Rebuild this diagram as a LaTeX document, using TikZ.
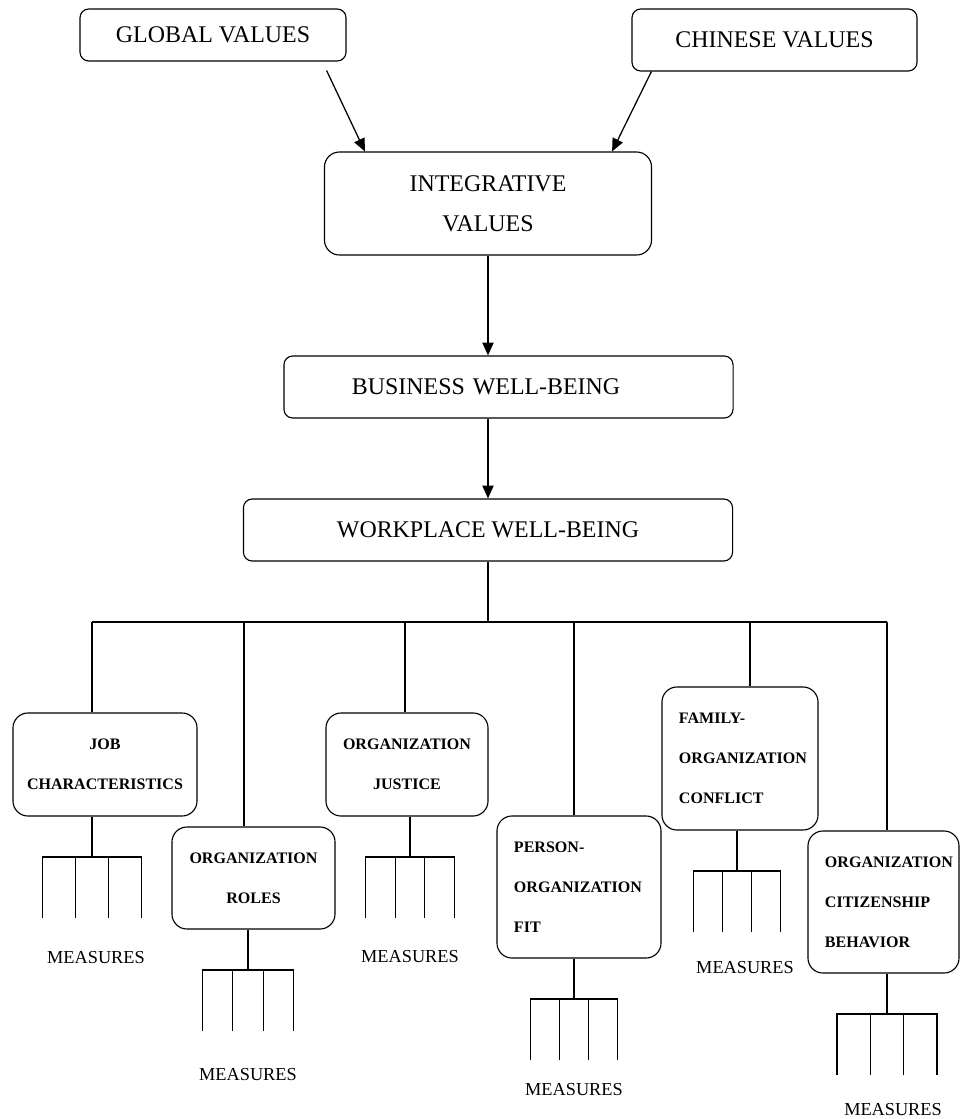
\documentclass[tikz,border=0pt]{standalone}
\usepackage{fontspec}
\setmainfont{Liberation Serif}
\usetikzlibrary{arrows.meta,calc}
\tikzset{
  topbox/.style={draw,thick,rounded corners=0.22cm,align=center,inner sep=0pt,font=\fontsize{17}{28.4}\selectfont},
  leafbox/.style={draw,thick,rounded corners=0.375cm,align=center,inner sep=0pt,font=\bfseries\fontsize{11.4}{28.4}\selectfont},
  leafboxl/.style={leafbox,align=left,inner xsep=0.425cm},
  meas/.style={inner sep=0pt,font=\fontsize{13}{15}\selectfont},
  arr/.style={-{Triangle[length=0.32cm,width=0.28cm]},line width=0.9pt},
  fork/.style={line width=0.9pt}
}
\begin{document}
\begin{tikzpicture}[x=0.025cm,y=-0.025cm]
  \useasboundingbox (0,0) rectangle (960,1119);
  % values
  \node[topbox,minimum width=6.65cm,minimum height=1.3cm] (glob) at (213,35) {GLOBAL VALUES};
  \node[topbox,minimum width=7.125cm,minimum height=1.55cm] (chin) at (774.5,40) {CHINESE VALUES};
  \node[topbox,rounded corners=0.375cm,minimum width=8.175cm,minimum height=2.575cm] (intv) at (488,203.5) {INTEGRATIVE\\VALUES};
  \node[topbox,align=left,inner xsep=1.7cm,text width=7.825cm,minimum height=1.55cm] (busn) at (508.5,387) {BUSINESS WELL-BEING};
  \node[topbox,minimum width=12.225cm,minimum height=1.55cm] (wp) at (488,530) {WORKPLACE WELL-BEING};
  \draw[arr] ([shift={(-20,9)}]glob.south east) -- ([xshift=41*0.025cm]intv.north west);
  \draw[arr] ([xshift=20*0.025cm]chin.south west) -- ([xshift=-40*0.025cm]intv.north east);
  \draw[arr] (intv.south) -- (intv.south |- busn.north);
  \draw[arr] (intv.south |- busn.south) -- (wp.north);
  % dimensions
  \node[leafbox,minimum width=4.6cm,minimum height=2.575cm] (job) at (105,764.5) {JOB\\CHARACTERISTICS};
  \node[leafbox,minimum width=4.075cm,minimum height=2.55cm] (roles) at (253.5,878) {ORGANIZATION\\ROLES};
  \node[leafbox,minimum width=4.05cm,minimum height=2.575cm] (just) at (407,764.5) {ORGANIZATION\\JUSTICE};
  \node[leafboxl,text width=3.25cm,minimum height=3.55cm] (pof) at (579,887) {PERSON-\\ORGANIZATION\\FIT};
  \node[leafboxl,text width=3.05cm,minimum height=3.575cm] (foc) at (740,758.5) {FAMILY-\\ORGANIZATION\\CONFLICT};
  \node[leafboxl,text width=2.925cm,minimum height=3.55cm] (ocb) at (883.5,902) {ORGANIZATION\\CITIZENSHIP\\BEHAVIOR};
  % tree from workplace well-being
  \foreach \n/\dx in {job/92,roles/244,just/405,pof/574,foc/750,ocb/887}{
    \coordinate (d\n) at (\dx,622);
    \draw[fork] (d\n) -- (d\n |- \n.north);
  }
  \draw[fork] (wp.south) -- (wp.south |- djob);
  \draw[fork] (djob) -- (docb);
  % measures
  \foreach \n/\sx/\by/\hw/\mx/\my in {job/92/857/49.5/96/958,roles/248/970/45.5/248/1075,
      just/410/857/44.5/410/957,pof/574/999/43.5/574/1090,
      foc/737/871/43.5/745/968,ocb/887/1014/50/893/1110}{
    \coordinate (s\n) at (\sx,\by);
    \draw[fork] (\n.south -| s\n) -- (s\n);
    \draw[fork] (\sx-\hw,\by+61) -- (\sx-\hw,\by) -- (\sx+\hw,\by) -- (\sx+\hw,\by+61);
    \draw[fork] (\sx-\hw/3,\by) -- (\sx-\hw/3,\by+61);
    \draw[fork] (\sx+\hw/3,\by) -- (\sx+\hw/3,\by+61);
    \node[meas] (m\n) at (\mx,\my) {MEASURES};
  }
\end{tikzpicture}
\end{document}
